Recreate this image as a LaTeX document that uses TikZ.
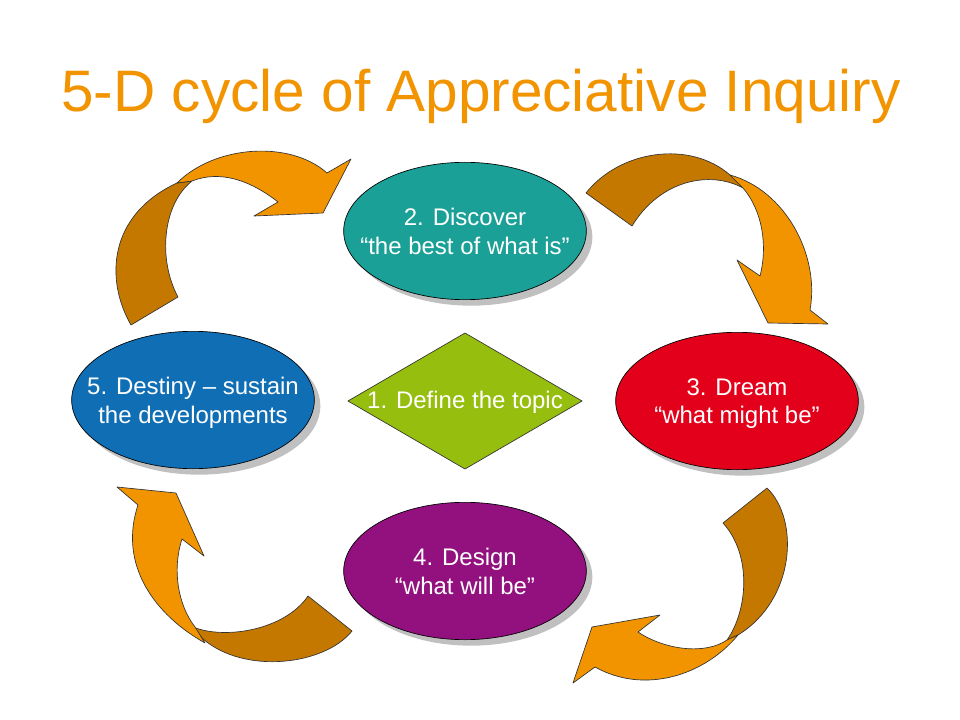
\documentclass[tikz,border=0pt]{standalone}
\usepackage{fontspec}
\setmainfont{Liberation Sans}
\usetikzlibrary{shapes.geometric,shadows}
\definecolor{titleor}{HTML}{F29400}
\definecolor{arrlight}{HTML}{F29400}
\definecolor{arrdark}{HTML}{C47800}
\definecolor{teal1}{HTML}{1AA096}
\definecolor{red1}{HTML}{E2001A}
\definecolor{purp1}{HTML}{92117E}
\definecolor{blue1}{HTML}{0F6EB4}
\definecolor{green1}{HTML}{96BE0E}
\definecolor{shadowgray}{HTML}{C0C0C0}
\begin{document}
\begin{tikzpicture}[x=0.75pt,y=-0.75pt,
 phase/.style={ellipse, draw=black, line width=0.5pt, minimum width=182pt, minimum height=103pt, inner xsep=-25pt, inner ysep=0pt, text depth=0pt, text=white, font=\fontsize{18}{21.5}\selectfont, align=center, drop shadow={shadow xshift=4.5pt, shadow yshift=-4.5pt, fill=shadowgray, opacity=1}},
 light/.style={fill=arrlight, draw=black!80, line width=0.5pt, line join=round},
 dark/.style={fill=arrdark, draw=black!80, line width=0.5pt, line join=round}]
\useasboundingbox (0,0) rectangle (960,720);
\fill[white] (0,0) rectangle (960,720);

% title
\node[anchor=base, text=titleor, font=\fontsize{43.9}{50}\selectfont, inner sep=0pt] (title) at (481,112) {5-D cycle of Appreciative Inquiry};

% arrow 1: top-left (Destiny -> Discover)
\path[dark] (131,325) .. controls (105,280) and (108,215) .. (177,183) -- (192,181)
  .. controls (162,205) and (158,260) .. (178,297) -- cycle;
\path[light] (177,183) .. controls (215,145) and (290,140) .. (327,173) -- (351,159) -- (323,213) -- (254,216) -- (278,202)
  .. controls (250,180) and (220,170) .. (192,181) -- cycle;

% arrow 2: top-right (Discover -> Dream)
\path[dark] (586,193) .. controls (620,150) and (690,140) .. (730,175) -- (743,188)
  .. controls (710,170) and (660,180) .. (632,226) -- cycle;
\path[light] (730,175) .. controls (785,190) and (820,255) .. (810,310) -- (828,324) -- (768,323) -- (737,260) -- (760,276)
  .. controls (768,245) and (762,210) .. (743,188) -- cycle;

% arrow 3: bottom-right (Dream -> Design)
\path[dark] (767,488) .. controls (800,520) and (795,600) .. (738,635) -- (727,640)
  .. controls (748,610) and (752,555) .. (723,523) -- cycle;
\path[light] (738,635) .. controls (705,675) and (645,695) .. (595,667) -- (573,683) -- (592,627) -- (660,615) -- (638,632)
  .. controls (665,650) and (705,655) .. (727,640) -- cycle;

% arrow 4: bottom-left (Design -> Destiny)
\path[dark] (308,596) -- (352,631) .. controls (325,665) and (245,675) .. (203,639) -- (193,627)
  .. controls (225,640) and (285,630) .. (308,596) -- cycle;
\path[light] (205,643) .. controls (155,615) and (118,565) .. (138,505) -- (117,487) -- (176,493) -- (204,556) -- (182,539)
  .. controls (172,570) and (178,605) .. (195,627) -- cycle;

% phases
\node[phase, fill=teal1] (discover) at (465,231) {2. Discover\\ “the best of what is”};
\node[phase, fill=red1] (dream) at (737,401) {3. Dream\\ “what might be”};
\node[phase, fill=purp1] (design) at (465,571) {4. Design\\ “what will be”};
\node[phase, fill=blue1] (destiny) at (193,400) {5. Destiny – sustain\\ the developments};

% diamond
\path[fill=green1, draw=black!80, line width=0.5pt] (465,333) -- (582,401) -- (465,469) -- (348,401) -- cycle;
\node[text=white, font=\fontsize{18}{21}\selectfont, inner sep=0pt] (define) at (465,402) {1. Define the topic};
\end{tikzpicture}
\end{document}
